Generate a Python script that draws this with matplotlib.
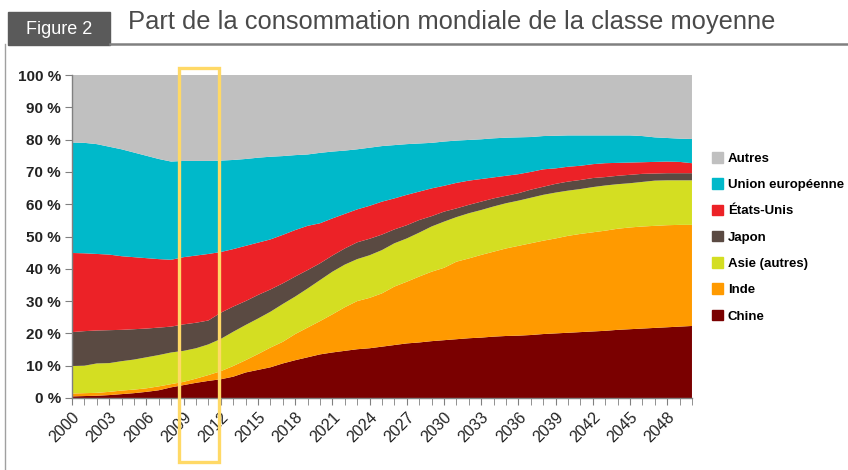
import numpy as np
import matplotlib.pyplot as plt
from matplotlib.patches import Rectangle
from matplotlib.lines import Line2D
from matplotlib.ticker import FixedLocator, PercentFormatter

plt.rcParams['font.family'] = ['Liberation Sans', 'DejaVu Sans']

years = list(range(2000, 2051))

# parts en % de la consommation mondiale de la classe moyenne
chine = [0.5, 0.6, 0.7, 0.9, 1.2, 1.5, 1.9, 2.4, 3.3, 4.0,
         4.7, 5.3, 5.8, 6.6, 7.9, 8.7, 9.5, 10.7, 11.7, 12.6,
         13.5, 14.1, 14.6, 15.1, 15.4, 15.9, 16.4, 16.9, 17.2, 17.6,
         17.9, 18.2, 18.5, 18.7, 19.0, 19.2, 19.3, 19.5, 19.8, 20.0,
         20.2, 20.4, 20.6, 20.8, 21.1, 21.3, 21.5, 21.7, 21.9, 22.1, 22.3]
inde = [0.9, 0.9, 0.9, 1.0, 1.1, 1.1, 1.1, 1.2, 1.0, 1.0,
        1.3, 1.8, 2.5, 3.3, 3.8, 4.9, 6.1, 6.7, 8.1, 9.2,
        10.3, 11.8, 13.5, 14.9, 15.6, 16.5, 18.1, 19.1, 20.4, 21.5,
        22.4, 24.0, 24.7, 25.6, 26.3, 27.1, 27.8, 28.4, 28.9, 29.4,
        30.0, 30.4, 30.7, 31.0, 31.3, 31.5, 31.6, 31.6, 31.6, 31.5, 31.3]
asie = [8.5, 8.5, 9.1, 8.9, 9.1, 9.3, 9.6, 9.7, 9.8, 9.6,
        9.4, 9.5, 10.0, 10.6, 10.9, 11.0, 11.1, 11.7, 11.6, 12.1,
        12.7, 13.2, 13.2, 13.0, 13.2, 13.4, 13.4, 13.4, 13.6, 14.0,
        14.3, 13.8, 14.0, 13.9, 14.0, 14.0, 14.0, 14.1, 14.2, 14.2,
        14.0, 13.9, 14.0, 14.0, 13.8, 13.7, 13.8, 14.0, 13.9, 13.8, 13.8]
japon = [10.5, 10.7, 10.2, 10.2, 9.7, 9.4, 8.9, 8.5, 8.0, 8.2,
         7.9, 7.4, 8.1, 7.8, 7.4, 7.3, 6.9, 6.4, 6.2, 5.7,
         5.2, 5.0, 5.0, 5.2, 5.1, 4.8, 4.3, 4.1, 3.9, 3.2,
         3.1, 2.7, 2.6, 2.6, 2.5, 2.3, 2.3, 2.5, 2.5, 2.7,
         2.8, 2.8, 2.8, 2.6, 2.6, 2.6, 2.5, 2.2, 2.2, 2.2, 2.2]
etats_unis = [24.5, 24.1, 23.7, 23.4, 22.8, 22.3, 21.8, 21.2, 20.7, 20.8,
              20.8, 20.6, 18.8, 17.8, 17.1, 16.2, 15.5, 15.0, 14.4, 13.7,
              12.4, 11.5, 10.7, 10.2, 10.2, 10.2, 9.6, 9.4, 8.8, 8.6,
              8.0, 7.9, 7.5, 7.0, 6.5, 6.2, 5.9, 5.5, 5.4, 4.8,
              4.6, 4.4, 4.3, 4.3, 4.0, 3.8, 3.6, 3.6, 3.6, 3.5, 3.1]
ue = [34.2, 34.2, 34.0, 33.4, 33.1, 32.4, 31.7, 31.0, 30.4, 29.8,
      29.3, 28.8, 28.3, 27.6, 26.9, 26.3, 25.6, 24.4, 23.2, 22.1,
      21.8, 20.7, 19.6, 18.6, 18.0, 17.2, 16.5, 15.7, 14.9, 14.1,
      13.7, 13.1, 12.6, 12.3, 12.1, 11.8, 11.4, 10.8, 10.3, 10.1,
      9.7, 9.4, 8.9, 8.6, 8.5, 8.4, 8.1, 7.6, 7.3, 7.2, 7.5]

series = [chine, inde, asie, japon, etats_unis, ue]
autres = [100 - sum(v) for v in zip(*series)]
series.append(autres)

labels = ["Chine", "Inde", "Asie (autres)", "Japon", "États-Unis",
          "Union européenne", "Autres"]
colors = ["#7A0000", "#FF9A00", "#D4DE22", "#5A4A42", "#EC2227",
          "#00B9CA", "#C0C0C0"]

fig = plt.figure(figsize=(8.48, 4.70), dpi=100)
ax = fig.add_axes([0.0849, 0.1532, 0.7311, 0.6872])

ax.stackplot(years, *series, colors=colors, linewidth=0)
ax.set_xlim(2000, 2050)
ax.set_ylim(0, 100)

ax.set_yticks(range(0, 101, 10))
ax.yaxis.set_major_formatter(PercentFormatter(decimals=0, symbol=" %"))
ax.set_xticks(years[::3])
ax.xaxis.set_minor_locator(FixedLocator(years))
ax.tick_params(axis="y", length=5, color="#808080", labelsize=11,
               labelcolor="#222222", pad=3)
ax.tick_params(axis="x", which="both", length=5, color="#808080", direction="out")
ax.tick_params(axis="x", labelsize=11.5, labelcolor="#222222", pad=3)
for lab in ax.get_yticklabels():
    lab.set_fontweight("bold")
plt.setp(ax.get_xticklabels(), rotation=45, ha="right", rotation_mode="anchor")

for side in ["top", "right"]:
    ax.spines[side].set_visible(False)
for side in ["left", "bottom"]:
    ax.spines[side].set_color("#808080")
    ax.spines[side].set_linewidth(1)

# legend, in reverse stacking order
handles = [Rectangle((0, 0), 1, 1, color=c) for c in colors[::-1]]
fig.legend(handles, labels[::-1], loc="upper left",
           bbox_to_anchor=(0.8396, 0.6766), frameon=False,
           prop={"size": 9.5, "weight": "bold"},
           handlelength=0.85, handleheight=0.85, handletextpad=0.35,
           labelspacing=1.02, borderaxespad=0, borderpad=0)

# header
fig.patches.append(Rectangle((8 / 848, 1 - 45 / 470), 102 / 848, 33 / 470,
                             transform=fig.transFigure, color="#5A5A5A"))
fig.text(59 / 848, 1 - 30 / 470, "Figure 2", color="white", fontsize=13,
         ha="center", va="center")
fig.text(128 / 848, 1 - 22 / 470,
         "Part de la consommation mondiale de la classe moyenne",
         color="#4A4A4A", fontsize=18.4, ha="left", va="center")
fig.lines.append(Line2D([110 / 848, 1], [1 - 44 / 470, 1 - 44 / 470],
                        transform=fig.transFigure, color="#808080", lw=1.8))
fig.lines.append(Line2D([5 / 848, 5 / 848], [0, 1 - 44 / 470],
                        transform=fig.transFigure, color="#A0A0A0", lw=1))

# yellow highlight frame
fig.patches.append(Rectangle((179 / 848, 1 - 462 / 470), 40 / 848, 394 / 470,
                             transform=fig.transFigure, fill=False,
                             edgecolor="#FFD966", lw=2.4))

fig.savefig("out.png", dpi=100)
